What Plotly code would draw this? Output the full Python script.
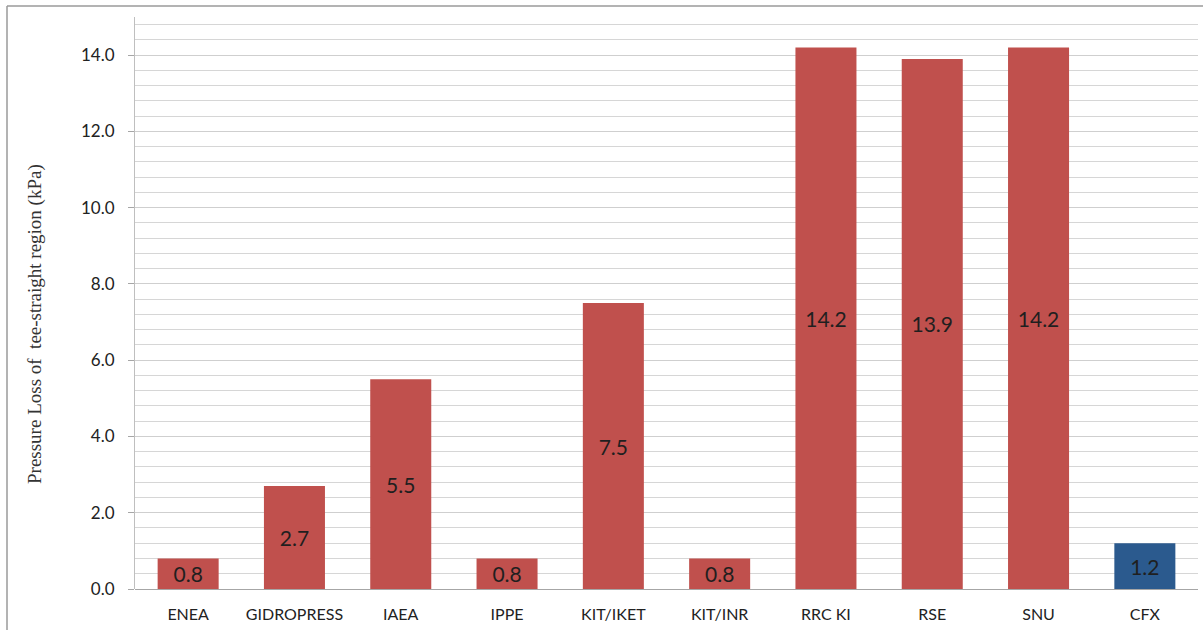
import plotly.graph_objects as go

# Pressure loss of the tee-straight region by participant
participants = ["ENEA", "GIDROPRESS", "IAEA", "IPPE", "KIT/IKET",
                "KIT/INR", "RRC KI", "RSE", "SNU", "CFX"]
pressure_loss_kpa = [0.8, 2.7, 5.5, 0.8, 7.5, 0.8, 14.2, 13.9, 14.2, 1.2]
bar_colors = ["#C0504D"] * 9 + ["#2B5A8E"]

y_tick_values = [0, 2, 4, 6, 8, 10, 12, 14]
y_tick_labels = ["0.0", "2.0", "4.0", "6.0", "8.0", "10.0", "12.0", "14.0"]

W, H = 1204, 630
L, R, T, B = 135, 6, 17, 41


def px_x(px):
    return (px - L) / (W - L - R)


def px_y(py):
    return (H - B - py) / (H - T - B)


fig = go.Figure(
    go.Bar(
        x=participants,
        y=pressure_loss_kpa,
        marker=dict(color=bar_colors, line=dict(width=0)),
        texttemplate="%{y:.1f}",
        textposition="inside",
        insidetextanchor="middle",
        constraintext="none",
        textfont=dict(family="Lato", size=21, color="#1f1f1f"),
        showlegend=False,
    )
)

fig.update_layout(
    width=W,
    height=H,
    margin=dict(l=L, r=R, t=T, b=B),
    paper_bgcolor="white",
    plot_bgcolor="white",
    bargap=0.426,
    font=dict(family="Lato", size=16, color="#333333"),
    xaxis=dict(
        showgrid=False,
        showline=False,
        ticks="",
        tickfont=dict(family="Lato", size=16, color="#222222"),
        ticklabelstandoff=14,
    ),
    yaxis=dict(
        range=[0, 15],
        tickvals=y_tick_values,
        ticktext=y_tick_labels,
        ticks="outside",
        ticklen=6,
        tickcolor="#a6a6a6",
        showline=True,
        linecolor="#bfbfbf",
        linewidth=1,
        showgrid=True,
        gridcolor="#cfcfcf",
        gridwidth=1,
        zeroline=True,
        zerolinecolor="#a6a6a6",
        zerolinewidth=1,
        minor=dict(dtick=0.4, tick0=0, showgrid=True,
                   gridcolor="#d6d6d6", gridwidth=1, ticks=""),
        tickfont=dict(family="Lato", size=17, color="#222222"),
        ticklabelstandoff=10,
    ),
    annotations=[
        dict(
            text="Pressure Loss of&nbsp;&nbsp;tee-straight region (kPa)",
            textangle=-90,
            x=px_x(35), y=px_y(324),
            xref="paper", yref="paper",
            xanchor="center", yanchor="middle",
            showarrow=False,
            font=dict(family="Liberation Serif", size=19, color="#333333"),
        )
    ],
    shapes=[
        dict(type="line", xref="paper", yref="paper",
             x0=px_x(7), x1=px_x(1203), y0=px_y(6), y1=px_y(6),
             line=dict(color="#9a9a9a", width=1.5)),
        dict(type="line", xref="paper", yref="paper",
             x0=px_x(7), x1=px_x(7), y0=px_y(6), y1=px_y(630),
             line=dict(color="#9a9a9a", width=1.5)),
    ],
)

fig.write_html("out.html")
